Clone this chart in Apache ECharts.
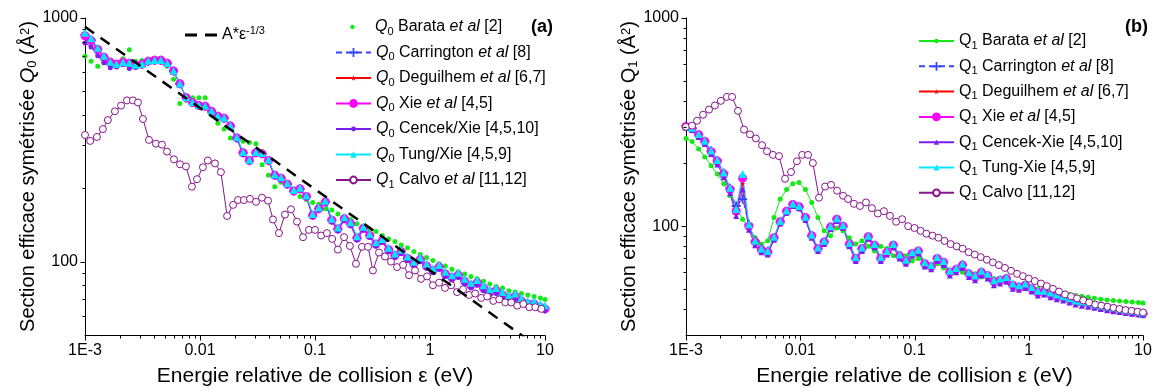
<!DOCTYPE html>
<html><head><meta charset="utf-8">
<script src="https://cdn.jsdelivr.net/npm/echarts@6/dist/echarts.min.js"></script>
<style>html,body{margin:0;padding:0;background:#fff}#c{width:1158px;height:392px}</style>
</head><body><div id="c"></div>
<script>
// ---- energy grids (eV) ----
const eGrid = [0.001,0.00113,0.00129,0.00146,0.00166,0.00188,0.00214,0.00243,0.00275,0.00313,
0.00355,0.00403,0.00457,0.00519,0.00589,0.00668,0.00759,0.00861,0.00977,0.0111,
0.0126,0.0143,0.0162,0.0184,0.0209,0.0237,0.0269,0.0306,0.0347,0.0394,
0.0447,0.0507,0.0575,0.0653,0.0741,0.0841,0.0955,0.108,0.123,0.14,
0.158,0.18,0.204,0.232,0.263,0.299,0.339,0.385,0.437,0.496,
0.562,0.638,0.724,0.822,0.933,1.06,1.2,1.36,1.55,1.76,
2.0,2.27,2.57,2.92,3.31,3.76,4.27,4.85,5.5,6.24,
7.08,8.04,9.12,10];
const eCalvoL = [0.001,0.00111,0.00127,0.00143,0.00158,0.00182,0.00206,0.00232,0.00261,0.00289,
0.00319,0.0036,0.00414,0.00467,0.00516,0.00594,0.0067,0.00755,0.00851,0.00942,
0.0106,0.0117,0.0135,0.0152,0.0172,0.0194,0.0214,0.0241,0.0272,0.0307,
0.0346,0.039,0.0431,0.0486,0.0548,0.0618,0.0697,0.0787,0.0887,0.1,
0.113,0.127,0.141,0.158,0.179,0.201,0.227,0.256,0.289,0.319,
0.36,0.406,0.458,0.517,0.583,0.657,0.741,0.836,0.943,1.06,
1.2,1.35,1.53,1.72,1.94,2.19,2.47,2.79,3.14,3.55,
4.0,4.51,5.09,5.74,6.48,7.31,8.24,9.3];
const eCalvoR = [0.001,0.00113,0.00125,0.00141,0.00159,0.00179,0.00202,0.00228,0.00253,0.00285,
0.00322,0.00363,0.00409,0.00463,0.00512,0.00577,0.00652,0.00736,0.0083,0.00936,
0.0104,0.0117,0.0129,0.0146,0.0165,0.0186,0.021,0.0237,0.0262,0.0295,
0.0333,0.0376,0.0424,0.0478,0.054,0.061,0.069,0.078,0.088,0.1,
0.113,0.127,0.144,0.162,0.183,0.207,0.234,0.264,0.298,0.337,
0.38,0.43,0.485,0.548,0.619,0.7,0.79,0.89,1.0,1.13,
1.28,1.44,1.63,1.84,2.08,2.35,2.65,3.0,3.38,3.82,
4.32,4.88,5.51,6.22,7.03,7.94,8.97,10];

// ---- (a) Q0 ----
const q0Barata = [696,665,634,655,650,648,680,740,665,670,
677,677,677,634,560,446,460,471,471,471,
400,370,350,322,318,312,308,305,250,226,
203,212,208,195,185,180,175,172,165,163,
157,153,149,143,137,136,133,128,124,121,
117,114,110,107,104,101,98,96,93,91,
89,87,85,83,81,79,78,76,75,74,
73,72,71,70];
const q0Xie = [846,808,743,690,658,646,658,652,640,646,
665,671,671,652,606,537,471,450,437,434,
414,395,388,360,322,280,260,280,277,260,
226,220,208,195,199,185,155,165,176,148,
136,150,143,125,137,128,118,122,112,106,
110,103,98,102,96,92,95,89,86,88,
83,80,82,78,75,76,73,71,72,69,
67,67,65,64];
const q0Carrington = [850,812,745,692,660,646,657,652,641,646,
665,671,671,652,606,537,471,450,437,434,
414,395,388,360,322,280,260,280,277,260,
226,220,208,195,199,185,155,165,176,148,
136,150,143,125,137,128,118,122,112,106,
110,103,98,102,96,92,95,89,86,88,
83,80,82,78,75,76,73,71,72,69,
67,67,65,64];
const q0Deguilhem = [846,808,743,690,658,646,658,652,640,646,
665,671,671,652,606,537,471,450,437,434,
414,395,388,360,322,280,260,280,277,260,
226,220,208,195,199,185,155,165,176,148,
136,150,143,125,137,128,118,122,112,106,
110,103,98,102,96,92,95,89,86,88,
83,80,82,78,75,76,73,71,72,69,
67,67,65,64];
const q0Cencek = [790,760,700,655,625,630,645,620,628,640,
660,668,668,648,604,535,470,448,436,432,
412,393,386,357,318,276,257,278,275,257,
223,218,206,193,197,183,153,163,174,146,
134,148,141,123,135,126,116,120,110,104,
108,101,96,100,94,90,93,87,84,86,
81,78,80,76,73,74,71,69,70,67,
66,65,64,63];
const q0Tung = [870,825,755,700,662,648,660,655,643,648,
667,673,673,654,608,539,473,452,439,436,
416,397,390,362,324,282,262,282,279,262,
228,222,210,197,201,187,157,167,178,150,
138,152,145,127,139,130,120,124,114,108,
112,105,100,104,98,94,97,91,88,90,
85,82,84,80,77,78,75,73,74,71,
69,69,67,66];
const q1CalvoL = [331,313,325,350,381,414,437,459,459,450,
385,316,305,302,283,263,251,246,203,218,
244,260,253,233,154,171,179,179,181,176,
183,178,149,131,156,164,146,126,135,135,
128,131,124,112,126,116,98,115,115,92,
109,105,100,95,97,88,92,85,87,80,
82,78,80,75,77,73,74,71,72,69,
70,68,68,66,67,65,65,64];
const fitLine = [[0.001, 920], [10, 42.7]];   // A*eps^-1/3 guide (A = 92)

// ---- (b) Q1 ----
const q1Barata = [264,255,235,215,195,178,160,140,122,108,
98,88,82,85,110,135,150,160,162,150,
130,110,95,90,98,95,88,82,85,80,
76,80,78,72,74,72,68,70,67,64,
66,63,61,62,60,58,59,57,56,56,
55,54,53,52,51,50.5,50,49,48.5,48,
47.5,47,46.5,46,45.5,45,44.5,44.2,44,43.7,
43.4,43.2,43,42.8];
const q1Xie = [301,295,275,255,228,205,178,150,118,170,
100,84,77,75,88,105,118,127,124,110,
90,78,84,99,108,100,82,70,78,89,
81,70,75,81,72,68,74,76,66,64,
70,67,60,62,65,59,57,60,58,54,
55,56,52,51,52,50,48,48.5,47,46,
45.5,44.5,43.5,43,42.5,41.5,41,40.5,40,39.5,
39,38.7,38.3,38];
const q1Carrington = [303,296,276,256,230,207,180,152,125,135,
102,85,78,76,88,105,118,127,124,110,
90,78,84,99,108,100,82,70,78,89,
81,70,75,81,72,68,74,76,66,64,
70,67,60,62,65,59,57,60,58,54,
55,56,52,51,52,50,48,48.5,47,46,
45.5,44.5,43.5,43,42.5,41.5,41,40.5,40,39.5,
39,38.7,38.3,38];
const q1Deguilhem = [301,295,275,255,228,205,178,150,118,160,
100,84,77,75,88,105,118,127,124,110,
90,78,84,99,108,100,82,70,78,89,
81,70,75,81,72,68,74,76,66,64,
70,67,60,62,65,59,57,60,58,54,
55,56,52,51,52,50,48,48.5,47,46,
45.5,44.5,43.5,43,42.5,41.5,41,40.5,40,39.5,
39,38.7,38.3,38];
const q1Cencek = [298,290,268,248,222,198,172,144,112,150,
96,81,75,73,86,103,116,125,122,107,
88,76,82,97,106,98,80,68,76,87,
79,68,73,79,70,66,72,74,64,62,
68,65,58,60,63,57,55,58,56,52,
53,54,50,49.5,50.5,48.5,46.5,47,45.5,44.5,
44,43,42,41.5,41,40.5,40,39.5,39,38.7,
38.3,38,37.7,37.4];
const q1Tung = [303,297,277,257,231,208,181,153,121,178,
102,85,78,76,89,106,119,128,125,111,
91,79,85,100,109,101,83,71,79,90,
82,71,76,82,73,69,75,77,67,65,
71,68,61,63,66,60,58,61,59,55,
56,57,53,52,53,51,49,49,48,47,
46,45,44,43.5,43,42,41.5,41,40.5,40,
39.5,39.2,38.8,38.5];
const q1CalvoR = [300,304,321,343,363,380,400,418,418,358,
291,276,264,245,229,220,217,169,182,205,
220,220,201,137,155,158,148,140,135,128,
125,130,122,115,118,112,105,108,100,98,
95,92,90,88,85,82,80,78,75,73,
71,69,67,65,63,61,59,57.5,56,54.5,
53,51.5,50,48.5,47,46,45,44,43,42,
41.5,41,40.5,40,39.5,39.2,38.8,38.5];

// ---- ticks ----
const xMajor = [0.001, 0.01, 0.1, 1, 10];
const xMinor = [0.002,0.003,0.004,0.005,0.006,0.007,0.008,0.009,0.02,0.03,0.04,0.05,0.06,0.07,0.08,0.09,
0.2,0.3,0.4,0.5,0.6,0.7,0.8,0.9,2,3,4,5,6,7,8,9];
const yMajor = [100, 1000];
const yMinorL = [60,70,80,90,200,300,400,500,600,700,800,900];
const yMinorR = [40,50,60,70,80,90,200,300,400,500,600,700,800,900];
const yMinL = 50, yMinR = 30, yMax = 1000, xMin = 0.001, xMax = 10;

const FONT = 'Liberation Sans, Arial, sans-serif';
const zip = (xs, ys) => ys.map((v, i) => [xs[i], v]);

const cGreen = '#17e817', cBlue = '#3344ff', cRed = '#ff0000', cMag = '#ff00ff',
      cPurp = '#7a1ef0', cCyan = '#00e8ff', cCalvo = '#86158a';
const plusPath = 'path://M4,0h2v4h4v2h-4v4h-2v-4h-4v-2h4z';
const starPath = 'path://M5,0L6.2,3.6L10,3.6L6.9,5.8L8.1,9.5L5,7.2L1.9,9.5L3.1,5.8L0,3.6L3.8,3.6Z';
const dashIcon = 'path://M0,0h12v3h-12zM20,0h12v3h-12z';

const subRich = {
  q: {fontStyle: 'italic', fontSize: 16, fontFamily: FONT},
  i: {fontStyle: 'italic', fontSize: 16, fontFamily: FONT},
  s: {fontSize: 11, verticalAlign: 'bottom', padding: [6, 0, 0, 0], fontFamily: FONT},
  p: {fontSize: 11, verticalAlign: 'top', fontFamily: FONT}
};
const labels = {
  a1: '{q|Q}{s|0} Barata {i|et al} [2]',
  a2: '{q|Q}{s|0} Carrington {i|et al} [8]',
  a3: '{q|Q}{s|0} Deguilhem {i|et al} [6,7]',
  a4: '{q|Q}{s|0} Xie {i|et al} [4,5]',
  a5: '{q|Q}{s|0} Cencek/Xie [4,5,10]',
  a6: '{q|Q}{s|0} Tung/Xie [4,5,9]',
  a7: '{q|Q}{s|1} Calvo {i|et al} [11,12]',
  b1: 'Q{s|1} Barata {i|et al} [2]',
  b2: 'Q{s|1} Carrington {i|et al} [8]',
  b3: 'Q{s|1} Deguilhem {i|et al} [6,7]',
  b4: 'Q{s|1} Xie {i|et al} [4,5]',
  b5: 'Q{s|1} Cencek-Xie [4,5,10]',
  b6: 'Q{s|1} Tung-Xie [4,5,9]',
  b7: 'Q{s|1} Calvo [11,12]',
  fit: 'A*ε{p|-1/3}'
};

function xAxis(g) {
  return {
    gridIndex: g, type: 'log', logBase: 10, min: xMin, max: xMax,
    axisLine: {lineStyle: {color: '#000', width: 1}},
    axisTick: {show: false},
    axisLabel: {customValues: xMajor, color: '#000', fontSize: 16, fontFamily: FONT, margin: 8,
      formatter: v => (Math.abs(v - 0.001) < 1e-9 ? '1E-3' : String(+v.toPrecision(3)))},
    splitLine: {show: false},
    name: 'Energie relative de collision ε (eV)', nameLocation: 'middle', nameGap: 31,
    nameTextStyle: {color: '#000', fontSize: 21, fontFamily: FONT}
  };
}
function yAxis(g, min, nameRich) {
  return {
    gridIndex: g, type: 'log', logBase: 10, min: min, max: yMax,
    axisLine: {show: true, lineStyle: {color: '#000', width: 1}},
    axisTick: {show: false},
    axisLabel: {customValues: yMajor, color: '#000', fontSize: 16, fontFamily: FONT, margin: 7,
      formatter: v => String(Math.round(v))},
    splitLine: {show: false},
    name: nameRich, nameLocation: 'middle', nameGap: 46, nameRotate: 90,
    nameTextStyle: {color: '#000', fontSize: 20, fontFamily: FONT,
      rich: {
        i: {fontStyle: 'italic', fontSize: 20, fontFamily: FONT},
        s: {fontSize: 13, verticalAlign: 'bottom', padding: [6, 0, 0, 0], fontFamily: FONT},
        p: {fontSize: 13, verticalAlign: 'top', fontFamily: FONT}
      }}
  };
}

// tick marks drawn through the axes' own coordinate mapping
function tickSeries(axisIdx, dir, vals, fixed, len) {
  return {
    type: 'custom', xAxisIndex: axisIdx, yAxisIndex: axisIdx, silent: true, clip: false,
    animation: false, z: 5,
    data: vals.map(v => dir === 'x' ? [v, fixed] : [fixed, v]),
    renderItem: (params, api) => {
      const p = api.coord([api.value(0), api.value(1)]);
      const x = Math.round(p[0]) + 0.5, y = Math.round(p[1]) + 0.5;
      const shape = dir === 'x' ? {x1: x, y1: y, x2: x, y2: y + len} : {x1: x, y1: y, x2: x - len, y2: y};
      return {type: 'line', shape: shape, style: {stroke: '#000', lineWidth: 1}};
    }
  };
}

function lineSeries(name, xi, data, color, symbol, size, extra) {
  return Object.assign({
    name: name, type: 'line', xAxisIndex: xi, yAxisIndex: xi, data: data,
    symbol: symbol, symbolSize: size, showSymbol: true,
    lineStyle: {color: color, width: 1}, itemStyle: {color: color},
    animation: false, clip: true, z: 2
  }, extra || {});
}

const openCircle = {itemStyle: {color: '#fff', borderColor: cCalvo, borderWidth: 1}};
const dashedBlue = {lineStyle: {color: cBlue, width: 1, type: [6, 4]}};
const series = [
  // (a)
  lineSeries('a1', 0, zip(eGrid, q0Barata), cGreen, 'circle', 5, {lineStyle: {width: 0, opacity: 0}}),
  lineSeries('a2', 0, zip(eGrid, q0Carrington), cBlue, plusPath, 9, dashedBlue),
  lineSeries('a3', 0, zip(eGrid, q0Deguilhem), cRed, starPath, 5),
  lineSeries('a4', 0, zip(eGrid, q0Xie), cMag, 'circle', 9),
  lineSeries('a5', 0, zip(eGrid, q0Cencek), cPurp, 'circle', 5),
  lineSeries('a6', 0, zip(eGrid, q0Tung), cCyan, 'triangle', 8),
  lineSeries('a7', 0, zip(eCalvoL, q1CalvoL), cCalvo, 'circle', 7, openCircle),
  lineSeries('fit', 0, fitLine, '#000', 'none', 0, {lineStyle: {color: '#000', width: 2.5, type: [11, 8]}, z: 3}),
  // (b)
  lineSeries('b1', 1, zip(eGrid, q1Barata), cGreen, 'circle', 5),
  lineSeries('b2', 1, zip(eGrid, q1Carrington), cBlue, plusPath, 9, dashedBlue),
  lineSeries('b3', 1, zip(eGrid, q1Deguilhem), cRed, starPath, 5),
  lineSeries('b4', 1, zip(eGrid, q1Xie), cMag, 'circle', 9),
  lineSeries('b5', 1, zip(eGrid, q1Cencek), cPurp, 'triangle', 6),
  lineSeries('b6', 1, zip(eGrid, q1Tung), cCyan, 'triangle', 8),
  lineSeries('b7', 1, zip(eCalvoR, q1CalvoR), cCalvo, 'circle', 7, openCircle),
  // axis ticks
  tickSeries(0, 'x', xMajor, yMinL, 5), tickSeries(0, 'x', xMinor, yMinL, 3),
  tickSeries(0, 'y', yMajor, xMin, 5), tickSeries(0, 'y', yMinorL, xMin, 3),
  tickSeries(1, 'x', xMajor, yMinR, 5), tickSeries(1, 'x', xMinor, yMinR, 3),
  tickSeries(1, 'y', yMajor, xMin, 5), tickSeries(1, 'y', yMinorR, xMin, 3)
];

// one legend entry per component so each sample symbol keeps its own size
function legendItem(item, left, rowCenter, w, h) {
  return {
    data: [item], orient: 'vertical', left: left, top: rowCenter - 10,
    itemWidth: w, itemHeight: h, padding: 0, selectedMode: false,
    textStyle: {color: '#000', fontSize: 16, fontFamily: FONT, lineHeight: 20, rich: subRich},
    formatter: n => labels[n]
  };
}
const legA = [['a1', 5.5], ['a2', 11], ['a3', 7], ['a4', 11], ['a5', 6], ['a6', 8], ['a7', 8.5]];
const legB = [['b1', 5.5], ['b2', 11], ['b3', 6.5], ['b4', 11], ['b5', 6.5], ['b6', 7.5], ['b7', 8.5]];
const legends = [];
legA.forEach((it, i) => legends.push(legendItem(it[0], 335, 27 + 25.5 * i, 35, it[1])));
legB.forEach((it, i) => legends.push(legendItem(it[0], 918, 41 + 25.3 * i, 35, it[1])));
legends.push(legendItem({name: 'fit', icon: dashIcon}, 185, 35, 32, 3));

const chart = echarts.init(document.getElementById('c'), null, {renderer: 'canvas'});
chart.setOption({
  animation: false,
  backgroundColor: '#fff',
  grid: [
    {left: 85, right: 613, top: 18, bottom: 52},
    {left: 686, right: 15, top: 18, bottom: 52}
  ],
  xAxis: [xAxis(0), xAxis(1)],
  yAxis: [yAxis(0, yMinL, 'Section efficace symétrisée {i|Q}{s|0} (Å{p|2})'),
          yAxis(1, yMinR, 'Section efficace symétrisée Q{s|1} (Å{p|2})')],
  legend: legends,
  title: [
    {text: '(a)', left: 531, top: 18, padding: 0, textStyle: {fontSize: 18, fontWeight: 'bold', color: '#000', fontFamily: FONT}},
    {text: '(b)', left: 1125, top: 18, padding: 0, textStyle: {fontSize: 18, fontWeight: 'bold', color: '#000', fontFamily: FONT}}
  ],
  series: series
});
</script>
</body></html>
